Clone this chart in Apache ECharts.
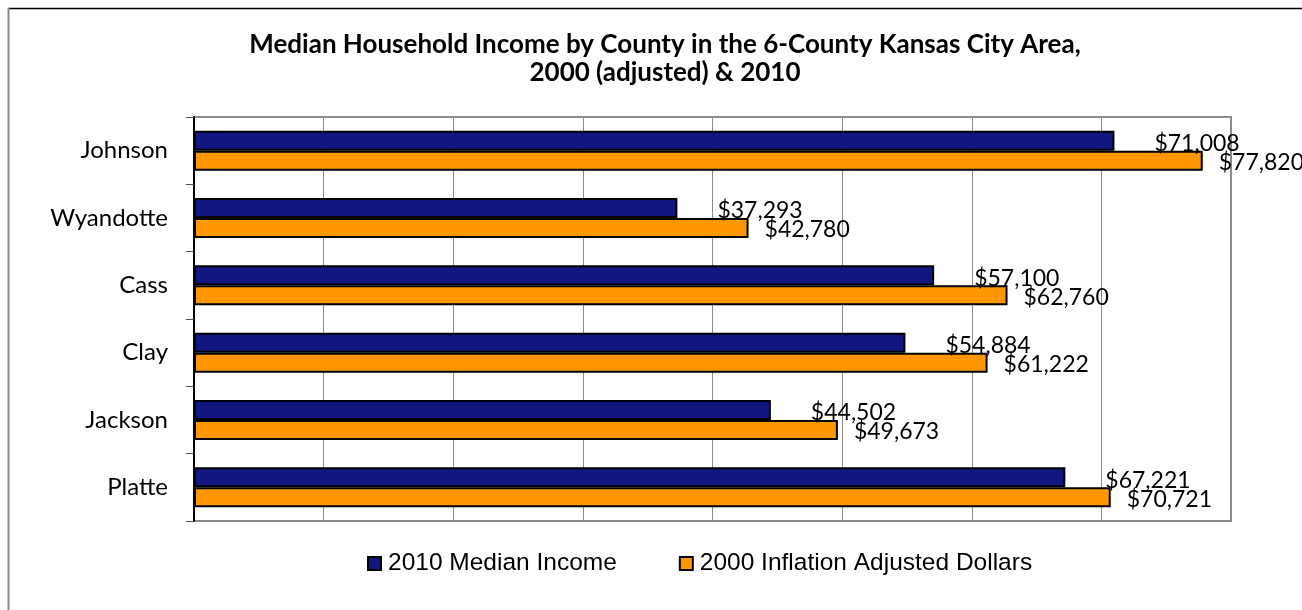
<!DOCTYPE html>
<html>
<head>
<meta charset="utf-8">
<script src="https://cdn.jsdelivr.net/npm/echarts@6/dist/echarts.min.js"></script>
<style>
  html, body { margin: 0; padding: 0; background: #fff; }
  #chart { width: 1302px; height: 610px; }
</style>
</head>
<body>
<div id="chart"></div>
<script>
// counties, top to bottom
var counties = ['Johnson', 'Wyandotte', 'Cass', 'Clay', 'Jackson', 'Platte'];
var income2010 = [71008, 37293, 57100, 54884, 44502, 67221];
var income2000adj = [77820, 42780, 62760, 61222, 49673, 70721];
var seriesNames = ['2010 Median Income', '2000 Inflation Adjusted Dollars'];

var dom = document.getElementById('chart');
var myChart = echarts.init(dom);

function money(p) {
    return '$' + p.value.toLocaleString('en-US');
}

var option = {
    animation: false,
    title: {
        text: 'Median Household Income by County in the 6-County Kansas City Area,\n2000 (adjusted) & 2010',
        left: 660,
        top: 26,
        textAlign: 'center',
        textStyle: {
            fontFamily: 'Lato',
            fontWeight: 'bold',
            fontSize: 26,
            lineHeight: 28,
            color: '#000'
        }
    },
    legend: {
        bottom: 29,
        left: 362,
        itemWidth: 13,
        itemHeight: 13,
        itemGap: 62,
        icon: 'rect',
        itemStyle: { borderColor: '#000', borderWidth: 2 },
        textStyle: {
            fontFamily: 'Liberation Sans',
            fontSize: 24.5,
            color: '#000',
            padding: [0, 0, 0, 2]
        },
        data: seriesNames
    },
    grid: {
        left: 194,
        top: 117,
        right: 71,
        bottom: 89,
        show: true,
        borderColor: '#8c8c8c',
        borderWidth: 2
    },
    xAxis: {
        type: 'value',
        min: 0,
        max: 80000,
        interval: 10000,
        axisLabel: { show: false },
        axisTick: { show: false },
        axisLine: { show: false },
        splitLine: { lineStyle: { color: '#8c8c8c', width: 1 } }
    },
    yAxis: {
        type: 'category',
        inverse: true,
        data: counties,
        axisLine: { show: true, lineStyle: { color: '#000', width: 2 } },
        axisTick: { show: true, length: 8, lineStyle: { color: '#555' } },
        axisLabel: {
            fontFamily: 'Lato',
            fontSize: 24,
            color: '#000',
            margin: 26
        }
    },
    series: [
        {
            name: seriesNames[0],
            type: 'bar',
            data: income2010,
            barWidth: 20,
            barGap: '0%',
            itemStyle: { color: '#121780', borderColor: '#000', borderWidth: 2 },
            label: {
                show: true,
                position: 'right',
                distance: 40,
                offset: [0, 3],
                formatter: money,
                fontFamily: 'Lato',
                fontSize: 23,
                color: '#000'
            }
        },
        {
            name: seriesNames[1],
            type: 'bar',
            data: income2000adj,
            barWidth: 20,
            itemStyle: { color: '#ff9700', borderColor: '#000', borderWidth: 2 },
            label: {
                show: true,
                position: 'right',
                distance: 16,
                offset: [0, 2],
                formatter: money,
                fontFamily: 'Lato',
                fontSize: 23,
                color: '#000'
            }
        }
    ],
    graphic: [
        { type: 'line', shape: { x1: 8, y1: 8.5, x2: 1302, y2: 8.5 }, style: { stroke: '#000', lineWidth: 1.5 } },
        { type: 'line', shape: { x1: 8.5, y1: 8, x2: 8.5, y2: 610 }, style: { stroke: '#888', lineWidth: 2 } }
    ]
};

if (option && typeof option === "object") {
    myChart.setOption(option, true);
}
</script>
</body>
</html>
